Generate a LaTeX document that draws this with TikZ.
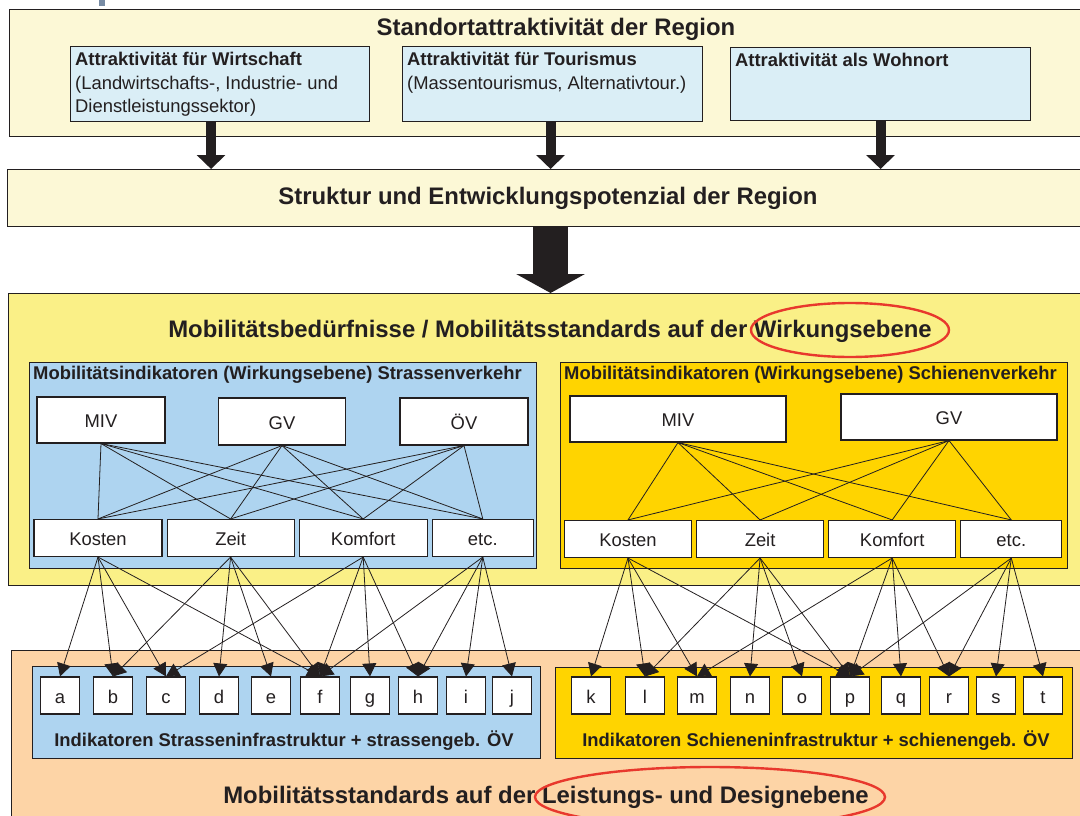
\documentclass[tikz,border=0pt]{standalone}
\usepackage{fontspec}
\setmainfont{Liberation Sans}
\usepackage{xcolor}
\usetikzlibrary{arrows.meta, positioning, calc}

\definecolor{cream}{RGB}{252,248,214}
\definecolor{iceblue}{RGB}{218,238,246}
\definecolor{lemon}{RGB}{250,240,135}
\definecolor{skyblue}{RGB}{174,212,240}
\definecolor{gold}{RGB}{255,212,0}
\definecolor{peach}{RGB}{253,212,166}
\definecolor{ink}{RGB}{35,31,32}
\definecolor{ringred}{RGB}{232,56,45}
\definecolor{slate}{RGB}{120,140,165}

\newcommand{\headfont}{\fontsize{23.9}{28}\selectfont\bfseries}
\newcommand{\bodyfont}{\fontsize{18.4}{23.5}\selectfont}

\begin{document}
\begin{tikzpicture}[x=1pt, y=-1pt, node distance=4pt,
    every node/.style={text=ink},
    panel/.style={draw=ink, line width=1.1pt, anchor=north west, inner sep=0pt},
    heading/.style={font=\headfont, inner sep=0pt},
    caption/.style={font=\bodyfont, anchor=north west, align=left, inner xsep=5pt, inner ysep=6pt},
    cell/.style={draw=ink, line width=1.1pt, fill=white, font=\bodyfont, inner sep=0pt, text height=15pt, text depth=0pt},
    item/.style={cell, minimum width=39pt, minimum height=37pt},
    link/.style={ink, line width=0.8pt},
    feed/.style={link, -{Triangle[length=13pt, width=14pt]}}]

    \useasboundingbox (0,0) rectangle (1080,816);
    \clip (0,0) rectangle (1080,816);
    \fill[slate] (99,0) rectangle (105,6);

    % Standortattraktivitaet
    \node[panel, fill=cream, minimum width=1100pt, minimum height=127pt] (standort) at (9,9) {};
    \node[heading] (standorttitel) at (556,29) {Standortattraktivität der Region};
    \node[panel, fill=iceblue, minimum width=299pt, minimum height=75pt] (wirtschaft) at (70,46) {};
    \node[caption] (wirtschafttext) at (wirtschaft.north west) {{\bfseries Attraktivität für Wirtschaft}\\(Landwirtschafts-, Industrie- und\\Dienstleistungssektor)};
    \node[panel, fill=iceblue, minimum width=300pt, minimum height=75pt] (tourismus) at (402,46) {};
    \node[caption] (tourismustext) at (tourismus.north west) {{\bfseries Attraktivität für Tourismus}\\(Massentourismus, Alternativtour.)};
    \node[panel, fill=iceblue, minimum width=300pt, minimum height=73pt] (wohnort) at (730,47) {};
    \node[caption] (wohnorttext) at (wohnort.north west) {\bfseries Attraktivität als Wohnort};

    \node[panel, fill=cream, minimum width=1100pt, minimum height=57pt] (struktur) at (7,169) {};
    \node[heading] (strukturtitel) at (548,198) {Struktur und Entwicklungspotenzial der Region};

    % Wirkungsebene
    \node[panel, fill=lemon, minimum width=1100pt, minimum height=292pt] (bedarf) at (8,293) {};
    \node[heading] (bedarftitel) at (550,331) {Mobilitätsbedürfnisse / Mobilitätsstandards auf der Wirkungsebene};
    \draw[ringred, line width=2.4pt] (850,330) ellipse [x radius=99, y radius=27];

    \node[panel, fill=skyblue, minimum width=507pt, minimum height=206pt] (strasse) at (29,362) {};
    \node[caption, inner xsep=4pt, inner ysep=4pt] (strassetext) at (strasse.north west) {\bfseries Mobilitätsindikatoren (Wirkungsebene) Strassenverkehr};
    \node[panel, fill=gold, minimum width=507pt, minimum height=206pt] (schiene) at (560,362) {};
    \node[caption, inner xsep=4pt, inner ysep=4pt] (schienetext) at (schiene.north west) {\bfseries Mobilitätsindikatoren (Wirkungsebene) Schienenverkehr};

    \node[cell, minimum width=128pt, minimum height=46pt] (mivL) at (101,420) {MIV};
    \node[cell, minimum width=127pt, minimum height=47pt] (gvL) at (282,421.5) {GV};
    \node[cell, minimum width=128pt, minimum height=47pt] (oevL) at (464,421.5) {ÖV};
    \node[cell, minimum width=216pt, minimum height=46pt] (mivR) at (678,419) {MIV};
    \node[cell, minimum width=216pt, minimum height=46pt] (gvR) at (949,417) {GV};

    \node[cell, minimum width=128pt, minimum height=37pt] (kostenL) at (98,538) {Kosten};
    \node[cell, minimum width=127pt, minimum height=37pt, right=of kostenL] (zeitL) {Zeit};
    \node[cell, minimum width=128pt, minimum height=37pt, right=of zeitL] (komfortL) {Komfort};
    \node[cell, minimum width=101pt, minimum height=37pt, right=of komfortL] (etcL) {etc.};
    \node[cell, minimum width=127pt, minimum height=37pt] (kostenR) at (628,539) {Kosten};
    \node[cell, minimum width=127pt, minimum height=37pt, right=of kostenR] (zeitR) {Zeit};
    \node[cell, minimum width=127pt, minimum height=37pt, right=of zeitR] (komfortR) {Komfort};
    \node[cell, minimum width=101pt, minimum height=37pt, right=of komfortR] (etcR) {etc.};

    % Leistungs- und Designebene
    \node[panel, fill=peach, minimum width=1100pt, minimum height=200pt] (design) at (11,650) {};
    \node[heading] (designtitel) at (546,797) {Mobilitätsstandards auf der Leistungs- und Designebene};
    \draw[ringred, line width=2.4pt] (710,797) ellipse [x radius=175, y radius=30];

    \node[panel, fill=skyblue, minimum width=508pt, minimum height=92pt] (strasseinfra) at (32,666) {};
    \node[font=\bodyfont\bfseries] (strasseinfratext) at (284,741) {Indikatoren Strasseninfrastruktur + strassengeb. ÖV};
    \node[panel, fill=gold, minimum width=517pt, minimum height=91pt] (schieneinfra) at (555,667) {};
    \node[font=\bodyfont\bfseries] (schieneinfratext) at (816,741) {Indikatoren Schieneninfrastruktur + schienengeb. ÖV};

    \foreach \n/\x in {a/60, b/113, c/166, d/219, e/271, f/320, g/370, h/418, i/466, j/512,
                       k/591, l/645, m/697, n/750, o/802, p/850, q/901, r/949, s/996, t/1043}
        \node[item] (\n) at (\x,695.5) {\n};

    % Pfeile
    \draw[ink, line width=10pt, -{Triangle[length=14pt, width=28pt]}] ($(wirtschaft.south)+(-9,0)$) -- ($(wirtschaft.south |- struktur.north)+(-9,0)$);
    \draw[ink, line width=10pt, -{Triangle[length=14pt, width=28pt]}] ($(tourismus.south)+(-2,0)$) -- ($(tourismus.south |- struktur.north)+(-2,0)$);
    \draw[ink, line width=10pt, -{Triangle[length=14pt, width=28pt]}] (wohnort.south) -- (wohnort.south |- struktur.north);
    \draw[ink, line width=35pt, -{Triangle[length=19pt, width=68pt]}] ($(tourismus.south |- struktur.south)+(-2,0)$) -- ($(tourismus.south |- bedarf.north)+(-2,0)$);

    \foreach \s in {mivL, gvL, oevL}
        \foreach \t in {kostenL, zeitL, komfortL, etcL}
            \draw[link] (\s.south) -- (\t.north);
    \foreach \s in {mivR, gvR}
        \foreach \t in {kostenR, zeitR, komfortR, etcR}
            \draw[link] (\s.south) -- (\t.north);

    \foreach \s/\t in {kostenL/a, kostenL/b, kostenL/c, kostenL/f, zeitL/b, zeitL/d, zeitL/e, zeitL/f,
                       komfortL/c, komfortL/f, komfortL/g, komfortL/h, etcL/f, etcL/h, etcL/i, etcL/j,
                       kostenR/k, kostenR/l, kostenR/m, kostenR/p, zeitR/l, zeitR/n, zeitR/o, zeitR/p,
                       komfortR/m, komfortR/p, komfortR/q, komfortR/r, etcR/p, etcR/r, etcR/s, etcR/t}
        \draw[feed] (\s.south) -- (\t.north);
\end{tikzpicture}
\end{document}
